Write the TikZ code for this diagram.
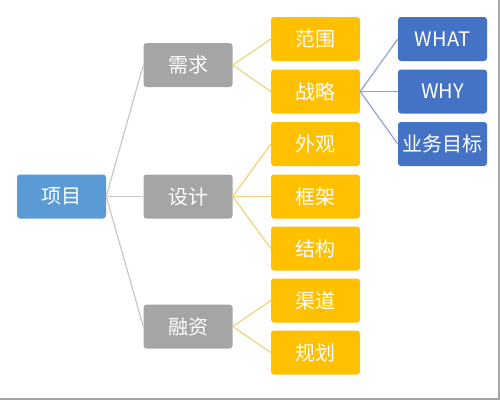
\documentclass[tikz,border=0pt]{standalone}
\usepackage{fontspec}
\usepackage{xcolor}
\usepackage{tikz}
\newfontfamily\cjk{Noto Sans CJK SC}
\definecolor{rootblue}{HTML}{5B9BD5}
\definecolor{grpgray}{HTML}{A5A5A5}
\definecolor{leafgold}{HTML}{FFC000}
\definecolor{goalblue}{HTML}{4472C4}
\definecolor{grayline}{HTML}{C8C8C8}
\definecolor{goldline}{HTML}{F2D27A}
\definecolor{blueline}{HTML}{8EA4D2}

\begin{document}
\begin{tikzpicture}[x=1pt,y=-1pt,
    box/.style={rounded corners=3pt,minimum width=89pt,minimum height=44pt,inner sep=0pt,
        text=white,font=\cjk\fontsize{20}{20}\selectfont},
    root/.style={box,fill=rootblue},
    grp/.style={box,fill=grpgray},
    leaf/.style={box,fill=leafgold},
    goal/.style={box,fill=goalblue}]
    \useasboundingbox (0,0) rectangle (500,400);
    \fill[white] (0,0) rectangle (500,400);
    %%%%%%%%%%%%%%%%%%%%%%%%%%%%%%%%%%
    \path(61.5,196.5) node[root](xm){项目};
    \path(188,65) node[grp](xq){需求};
    \path(188,196.5) node[grp](sj){设计};
    \path(188,326.5) node[grp](rz){融资};
    %%%%%%%%%%%%%%%%%%%%%%%%%%%%%%%%%%
    \path(315.5,39) node[leaf](fw){范围};
    \path(315.5,91.5) node[leaf](zl){战略};
    \path(315.5,144) node[leaf](wg){外观};
    \path(315.5,196.5) node[leaf](kj){框架};
    \path(315.5,248.5) node[leaf](jg){结构};
    \path(315.5,300.5) node[leaf](qd){渠道};
    \path(315.5,352.5) node[leaf](gh){规划};
    %%%%%%%%%%%%%%%%%%%%%%%%%%%%%%%%%%
    \path(442.5,39) node[goal](what){WHAT};
    \path(442.5,91.5) node[goal](why){WHY};
    \path(442.5,144) node[goal](mb){业务目标};
    %%%%%%%%%%%%%%%%%%%%%%%%%%%%%%%%%%
    \draw[grayline,line width=1.2pt](xm.east) -- (xq.west); % xm - xq
    \draw[grayline,line width=1.2pt](xm.east) -- (sj.west);
    \draw[grayline,line width=1.2pt](xm.east) -- (rz.west);
    \draw[goldline,line width=1.2pt](xq.east) -- (fw.west); % xq
    \draw[goldline,line width=1.2pt](xq.east) -- (zl.west);
    \draw[goldline,line width=1.2pt](sj.east) -- (wg.west); % sj
    \draw[goldline,line width=1.2pt](sj.east) -- (kj.west);
    \draw[goldline,line width=1.2pt](sj.east) -- (jg.west);
    \draw[goldline,line width=1.2pt](rz.east) -- (qd.west); % rz
    \draw[goldline,line width=1.2pt](rz.east) -- (gh.west);
    \draw[blueline,line width=1.2pt](zl.east) -- (what.west); % zl
    \draw[blueline,line width=1.2pt](zl.east) -- (why.west);
    \draw[blueline,line width=1.2pt](zl.east) -- (mb.west);
    %%%%%%%%%%%%%%%%%%%%%%%%%%%%%%%%%%
    \draw[gray!70,line width=1.2pt](0,399) -- (499,399) -- (499,0); % frame
\end{tikzpicture}
\end{document}
